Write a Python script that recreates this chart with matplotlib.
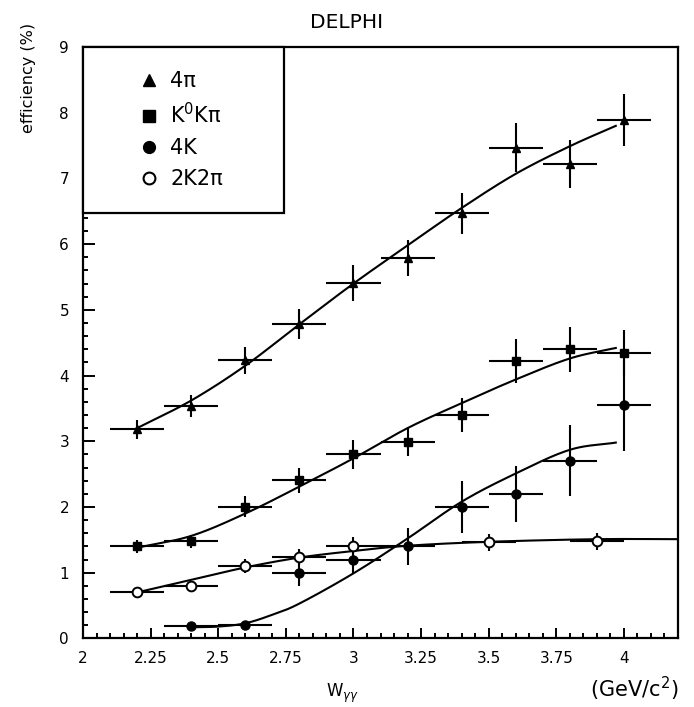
import numpy as np
import matplotlib
matplotlib.use("Agg")
import matplotlib.pyplot as plt
from matplotlib.lines import Line2D
from matplotlib.ticker import MultipleLocator, FuncFormatter

plt.rcParams['font.family'] = ['DejaVu Sans']

# ---------------- data ----------------
x_4pi = [2.2, 2.4, 2.6, 2.8, 3.0, 3.2, 3.4, 3.6, 3.8, 4.0]
y_4pi = [3.18, 3.54, 4.23, 4.78, 5.41, 5.79, 6.47, 7.47, 7.22, 7.89]
e_4pi = [0.15, 0.17, 0.21, 0.23, 0.27, 0.28, 0.31, 0.37, 0.36, 0.39]

x_k0 = [2.2, 2.4, 2.6, 2.8, 3.0, 3.2, 3.4, 3.6, 3.8, 4.0]
y_k0 = [1.40, 1.48, 2.00, 2.41, 2.80, 2.99, 3.40, 4.22, 4.40, 4.35]
e_k0 = [0.10, 0.10, 0.16, 0.19, 0.22, 0.22, 0.26, 0.34, 0.34, 0.35]

x_4k = [2.4, 2.6, 2.8, 3.0, 3.2, 3.4, 3.6, 3.8, 4.0]
y_4k = [0.19, 0.21, 1.00, 1.19, 1.40, 2.00, 2.20, 2.70, 3.55]
e_4k = [0.03, 0.03, 0.20, 0.20, 0.28, 0.39, 0.43, 0.54, 0.70]

x_2k = [2.2, 2.4, 2.6, 2.8, 3.0, 3.5, 3.9]
y_2k = [0.70, 0.80, 1.10, 1.24, 1.40, 1.46, 1.48]
e_2k = [0.04, 0.05, 0.11, 0.12, 0.14, 0.13, 0.13]

x_halfwidth = 0.1

# fitted curves
cx_4pi = [2.2, 2.4, 2.6, 2.8, 3.0, 3.2, 3.4, 3.6, 3.8, 3.97]
cy_4pi = [3.20, 3.62, 4.15, 4.78, 5.40, 5.98, 6.55, 7.07, 7.49, 7.80]
cx_k0 = [2.2, 2.4, 2.6, 2.8, 3.0, 3.2, 3.4, 3.6, 3.8, 3.97]
cy_k0 = [1.38, 1.56, 1.90, 2.31, 2.74, 3.20, 3.58, 3.94, 4.26, 4.42]
cx_4k = [2.4, 2.5, 2.6, 2.7, 2.8, 3.0, 3.2, 3.4, 3.6, 3.8, 3.97]
cy_4k = [0.17, 0.18, 0.23, 0.36, 0.53, 0.99, 1.52, 2.08, 2.51, 2.87, 2.98]
cx_2k = [2.2, 2.4, 2.6, 2.8, 3.0, 3.2, 3.5, 3.9, 4.2]
cy_2k = [0.70, 0.89, 1.08, 1.23, 1.33, 1.41, 1.47, 1.51, 1.51]

labels = ["4\u03c0", "K$^{0}$K\u03c0", "4K", "2K2\u03c0"]


def catmull(xs, ys, n=30):
    P = np.column_stack([xs, ys]).astype(float)
    P = np.vstack([2 * P[0] - P[1], P, 2 * P[-1] - P[-2]])
    t = np.linspace(0, 1, n, endpoint=False)[:, None]
    out = []
    for i in range(1, len(P) - 2):
        p0, p1, p2, p3 = P[i - 1], P[i], P[i + 1], P[i + 2]
        seg = 0.5 * ((2 * p1) + (-p0 + p2) * t
                     + (2 * p0 - 5 * p1 + 4 * p2 - p3) * t ** 2
                     + (-p0 + 3 * p1 - 3 * p2 + p3) * t ** 3)
        out.append(seg)
    out.append(P[-2][None, :])
    arr = np.vstack(out)
    return arr[:, 0], arr[:, 1]


W, H = 694, 707
fig = plt.figure(figsize=(W / 100, H / 100), dpi=100)
ax = fig.add_axes([83 / W, 1 - 638.4 / H, 595 / W, 591.4 / H])

lw = 1.5
# curves
for cx, cy in [(cx_4pi, cy_4pi), (cx_k0, cy_k0), (cx_4k, cy_4k), (cx_2k, cy_2k)]:
    sx, sy = catmull(cx, cy)
    ax.plot(sx, sy, color='k', lw=lw, zorder=2)

series = [
    (x_4pi, y_4pi, e_4pi, dict(marker='^', ms=6, mfc='k', mec='k')),
    (x_k0, y_k0, e_k0, dict(marker='s', ms=6, mfc='k', mec='k')),
    (x_4k, y_4k, e_4k, dict(marker='o', ms=6.5, mfc='k', mec='k')),
    (x_2k, y_2k, e_2k, dict(marker='o', ms=7, mfc='white', mec='k', mew=1.4)),
]
for xs, ys, es, mk in series:
    ax.errorbar(xs, ys, yerr=es, xerr=x_halfwidth, fmt='none', ecolor='k',
                elinewidth=lw, capsize=0, zorder=3)
    ax.plot(xs, ys, ls='none', zorder=4, **mk)

ax.set_xlim(2, 4.2)
ax.set_ylim(0, 9)

ax.xaxis.set_major_locator(MultipleLocator(0.25))
ax.xaxis.set_minor_locator(MultipleLocator(0.05))
ax.yaxis.set_major_locator(MultipleLocator(1))
ax.yaxis.set_minor_locator(MultipleLocator(0.2))
ax.xaxis.set_major_formatter(FuncFormatter(lambda v, p: f"{v:g}"))
ax.yaxis.set_major_formatter(FuncFormatter(lambda v, p: f"{v:g}"))

ax.tick_params(axis='both', which='both', direction='in', top=False, right=False,
               width=1.4, labelsize=11)
ax.tick_params(axis='y', which='major', length=8.6, pad=10)
ax.tick_params(axis='y', which='minor', length=3.6)
ax.tick_params(axis='x', which='major', length=7.2, pad=9)
ax.tick_params(axis='x', which='minor', length=3.6)
for s in ax.spines.values():
    s.set_linewidth(1.6)

# legend
handles = [
    Line2D([], [], ls='none', marker='^', ms=9, mfc='k', mec='k'),
    Line2D([], [], ls='none', marker='s', ms=8, mfc='k', mec='k'),
    Line2D([], [], ls='none', marker='o', ms=8.5, mfc='k', mec='k'),
    Line2D([], [], ls='none', marker='o', ms=8.5, mfc='white', mec='k', mew=1.5),
]
leg = ax.legend(handles, labels, loc='upper left',
                bbox_to_anchor=(0, 1 - 165 / 591.4, 201 / 595, 165 / 591.4),
                mode='expand', borderaxespad=0, fancybox=False, edgecolor='k',
                framealpha=1, fontsize=15, handlelength=4.0, handletextpad=-0.96,
                borderpad=1.15, labelspacing=0.53, numpoints=1)
leg.get_frame().set_linewidth(1.6)

# labels
fig.text(0.5, 1 - 22 / H, "DELPHI", ha='center', va='center', fontsize=14.5)
ax.set_ylabel("efficiency (%)", fontsize=11.5)
ax.yaxis.set_label_coords((36.5 - 83) / 595, (638.4 - 78) / 591.4)
fig.text(342 / W, 1 - 697 / H, "W$_{\\gamma\\gamma}$", ha='center', va='baseline', fontsize=12)
fig.text(678 / W, 1 - 697 / H, "(GeV/c$^{2}$)", ha='right', va='baseline', fontsize=15)

fig.savefig("out.png", dpi=100)
